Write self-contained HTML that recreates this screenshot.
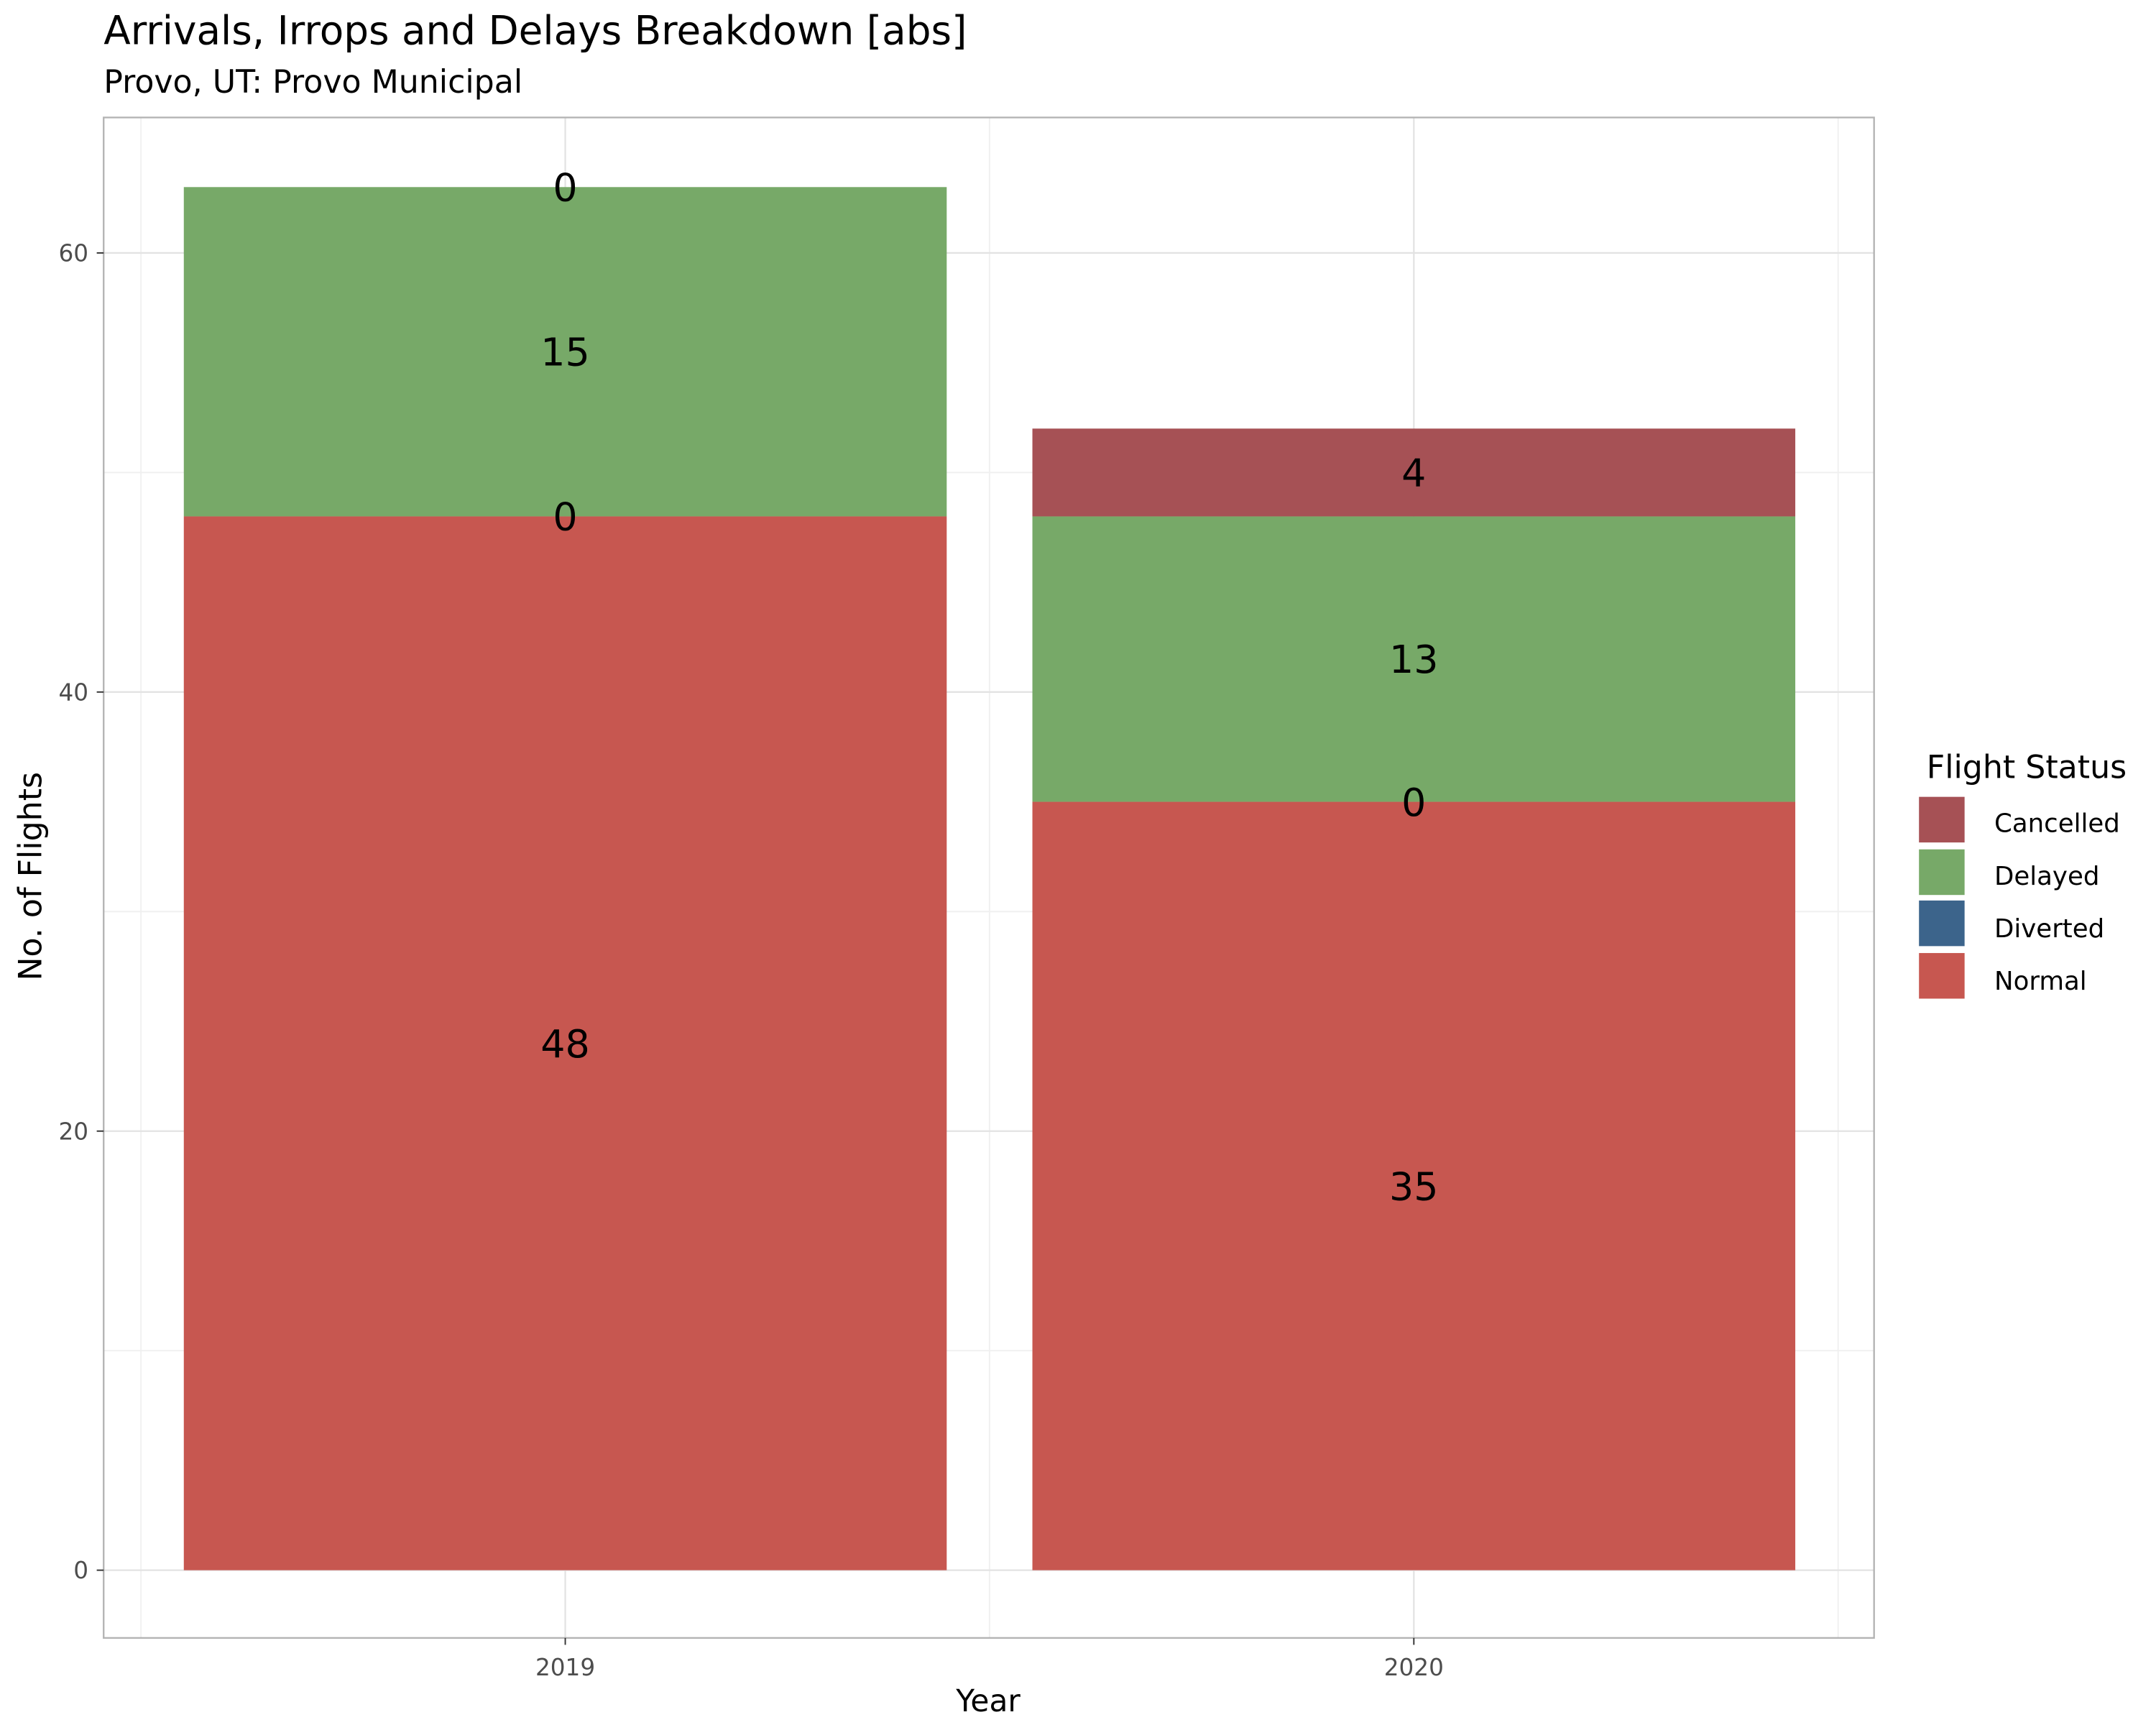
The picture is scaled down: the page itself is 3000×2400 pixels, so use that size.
<!DOCTYPE html>
<html><head><meta charset="utf-8"><style>
html,body{margin:0;padding:0;background:#fff}
svg{display:block;font-family:"DejaVu Sans","Liberation Sans",sans-serif}
</style></head><body>
<svg id="chart" width="3000" height="2400" viewBox="0 0 1560 1248" preserveAspectRatio="none" xmlns="http://www.w3.org/2000/svg">
<rect width="1560" height="1248" fill="#fff"/>
<text x="75" y="32" font-size="28.5" fill="#000">Arrivals, Irrops and Delays Breakdown [abs]</text>
<text x="75" y="67" font-size="23" fill="#000">Provo, UT: Provo Municipal</text>
<g id="grid"></g>
<g id="bars"></g>
<g id="labels"></g>
<rect x="75" y="85" width="1281" height="1100" fill="none" stroke="#b3b3b3" stroke-width="1.2"/>
<g id="axes"></g>
<text x="715" y="1238" font-size="22" text-anchor="middle">Year</text>
<text transform="translate(30,634) rotate(-90)" font-size="23" text-anchor="middle">No. of Flights</text>
<g>
<text x="1394" y="563" font-size="23">Flight Status</text>
<rect x="1388" y="576" width="34" height="34" fill="#a65155" stroke="#fff"/>
<text x="1443" y="602" font-size="18.5">Cancelled</text>
<rect x="1388" y="614" width="34" height="34" fill="#77a968" stroke="#fff"/>
<text x="1443" y="640" font-size="18.5">Delayed</text>
<rect x="1388" y="651" width="34" height="34" fill="#3c648b" stroke="#fff"/>
<text x="1443" y="678" font-size="18.5">Diverted</text>
<rect x="1388" y="689" width="34" height="34" fill="#c75750" stroke="#fff"/>
<text x="1443" y="716" font-size="18.5">Normal</text>
</g>
</svg>
<script>
const years = ["2019", "2020"];
const normal = [48, 35];
const diverted = [0, 0];
const delayed = [15, 13];
const cancelled = [0, 4];
const yTicks = [0, 20, 40, 60];
const yMinor = [10, 30, 50];

const NS = "http://www.w3.org/2000/svg";
const y = v => 1136 - v * (953 / 60);
const xc = i => 409 + i * 614;
const barW = 552;
function mk(tag, attrs, parent) {
  const e = document.createElementNS(NS, tag);
  for (const k in attrs) e.setAttribute(k, attrs[k]);
  parent.appendChild(e);
  return e;
}
const grid = document.getElementById('grid');
const bars = document.getElementById('bars');
const labels = document.getElementById('labels');
const axes = document.getElementById('axes');

yMinor.forEach(v => {
  const l = mk('line', {x1: 75, x2: 1356, y1: y(v), y2: y(v), stroke: '#f0f0f0', 'stroke-width': 1}, grid);
  
  
});
[-0.5, 0.5, 1.5].forEach(p => {
  const l = mk('line', {x1: xc(p), x2: xc(p), y1: 85, y2: 1185, stroke: '#f0f0f0', 'stroke-width': 1}, grid);
  
  
});
yTicks.forEach(v => {
  const l = mk('line', {x1: 75, x2: 1356, y1: y(v), y2: y(v), stroke: '#e3e3e3', 'stroke-width': 1.2}, grid);
  
  
  const t = mk('line', {x1: 70, x2: 75, y1: y(v), y2: y(v), stroke: '#333', 'stroke-width': 1}, axes);
  
  
  const tx = mk('text', {x: 64, y: y(v) + 6, 'font-size': 17, fill: '#4d4d4d', 'text-anchor': 'end'}, axes);
  tx.textContent = v;
  
  
});
years.forEach((yr, i) => {
  const l = mk('line', {x1: xc(i), x2: xc(i), y1: 85, y2: 1185, stroke: '#e3e3e3', 'stroke-width': 1.2}, grid);
  
  
  const t = mk('line', {x1: xc(i), x2: xc(i), y1: 1185, y2: 1190, stroke: '#333', 'stroke-width': 1}, axes);
  
  
  const tx = mk('text', {x: xc(i), y: 1212, 'font-size': 17, fill: '#4d4d4d', 'text-anchor': 'middle'}, axes);
  tx.textContent = yr;
  
  

  const series = [['normal', normal, '#c75750'], ['diverted', diverted, '#3c648b'], ['delayed', delayed, '#77a968'], ['cancelled', cancelled, '#a65155']];
  let base = 0;
  series.forEach(([name, arr, col]) => {
    const v = arr[i];
    const r = mk('rect', {x: xc(i) - barW / 2, y: y(base + v), width: barW, height: y(base) - y(base + v), fill: col}, bars);
    
    
    const t2 = mk('text', {x: xc(i), y: y(base + v / 2) + 10, 'font-size': 28, fill: '#000', 'text-anchor': 'middle'}, labels);
    t2.textContent = v;
    
    
    base += v;
  });
});
</script>
</body></html>
